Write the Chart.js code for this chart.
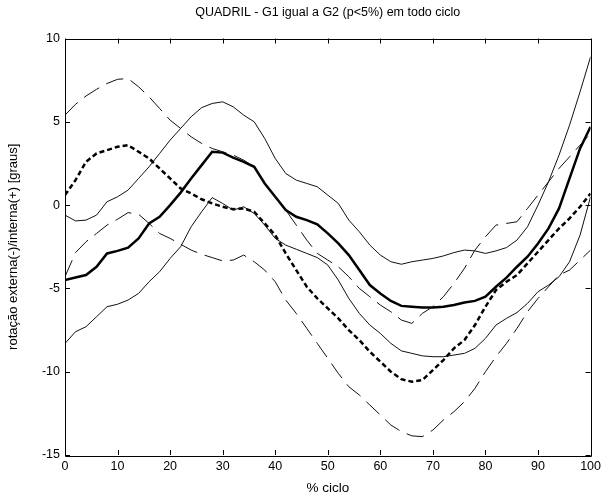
<!DOCTYPE html>
<html>
<head>
<meta charset="utf-8">
<script src="https://cdn.jsdelivr.net/npm/chart.js@4"></script>
<style>
  html, body { margin: 0; padding: 0; background: #fff; }
  #wrap { width: 605px; height: 493px; }
</style>
</head>
<body>
<div id="wrap"><canvas id="quadril"></canvas></div>
<script>
// % do ciclo
var pct = [0,2,4,6,8,10,12,14,16,18,20,22,24,26,28,30,32,34,36,38,40,42,44,46,48,50,
           52,54,56,58,60,62,64,66,68,70,72,74,76,78,80,82,84,86,88,90,92,94,96,98,100];

// G1 media (linha grossa continua)
var g1Media = [-4.5,-4.35,-4.2,-3.7,-2.9,-2.75,-2.55,-2.0,-1.1,-0.7,0.0,0.75,1.6,2.4,3.2,3.15,2.85,2.6,2.3,1.3,0.5,
               -0.3,-0.7,-0.9,-1.15,-1.7,-2.3,-3.0,-3.9,-4.8,-5.3,-5.75,-6.05,-6.1,-6.15,-6.15,-6.1,-6.0,-5.85,-5.75,-5.5,
               -4.9,-4.35,-3.7,-3.1,-2.3,-1.4,-0.2,1.6,3.4,4.7];
// G1 media + dp
var g1Sup = [-0.6,-0.95,-0.9,-0.6,0.2,0.5,0.9,1.6,2.3,3.1,3.9,4.6,5.3,5.85,6.1,6.2,5.9,5.4,5.0,4.0,2.8,
             1.9,1.5,1.3,1.1,0.6,0.1,-0.9,-1.6,-2.4,-3.0,-3.4,-3.55,-3.4,-3.3,-3.2,-3.05,-2.85,-2.7,-2.75,-2.9,
             -2.75,-2.55,-2.1,-1.3,0.0,1.4,3.0,4.8,6.8,8.9];
// G1 media - dp
var g1Inf = [-8.3,-7.6,-7.3,-6.7,-6.1,-5.95,-5.7,-5.3,-4.6,-4.0,-3.2,-2.5,-1.3,-0.4,0.45,0.1,-0.3,-0.1,-0.5,-1.2,-2.0,
             -2.4,-2.65,-2.9,-3.15,-3.6,-4.5,-5.6,-6.5,-7.2,-7.7,-8.3,-8.75,-8.9,-9.05,-9.1,-9.1,-9.0,-8.9,-8.6,-8.0,
             -7.2,-6.8,-6.45,-5.9,-5.2,-4.8,-4.3,-3.4,-1.8,0.5];
// G2 media (linha grossa tracejada)
var g2Media = [0.6,1.5,2.6,3.1,3.3,3.5,3.6,3.2,2.8,2.2,1.6,1.0,0.7,0.35,0.1,-0.1,-0.25,-0.2,-0.4,-1.1,-1.8,
               -2.9,-3.9,-4.9,-5.6,-6.2,-6.8,-7.5,-8.1,-8.8,-9.4,-10.0,-10.45,-10.6,-10.5,-9.9,-9.3,-8.6,-8.1,-7.2,-6.1,
               -5.1,-4.6,-4.2,-3.5,-2.8,-2.1,-1.4,-0.8,-0.1,0.7];
// G2 media + dp
var g2Sup = [5.4,6.05,6.55,6.95,7.3,7.55,7.6,7.1,6.5,5.8,5.1,4.6,4.1,3.7,3.4,3.2,3.0,2.7,2.3,1.3,0.5,
             -0.3,-1.2,-2.1,-2.9,-3.3,-3.7,-4.3,-5.0,-5.5,-6.0,-6.4,-6.9,-7.1,-6.5,-6.1,-5.5,-4.7,-3.8,-2.7,-1.9,
             -1.2,-1.1,-1.0,-0.2,0.6,1.4,2.2,2.9,3.6,4.3];
// G2 media - dp
var g2Inf = [-4.3,-2.85,-2.2,-1.7,-1.2,-0.85,-0.45,-0.55,-1.1,-1.7,-2.0,-2.35,-2.7,-2.95,-3.15,-3.35,-3.3,-3.0,-3.4,-3.9,-4.6,
             -5.7,-6.5,-7.4,-8.3,-9.2,-10.1,-10.9,-11.4,-12.0,-12.6,-13.2,-13.6,-13.85,-13.9,-13.5,-12.9,-12.4,-11.8,-11.0,-10.0,
             -9.1,-8.3,-7.4,-6.4,-5.6,-4.9,-4.2,-3.9,-3.3,-2.7];

var xTicks = [0,10,20,30,40,50,60,70,80,90,100];
var yTicks = [-15,-10,-5,0,5,10];

function pts(vals) {
  return vals.map(function (v, i) { return { x: pct[i], y: v }; });
}

// caixa e marcas para dentro, estilo matlab
var matlabBox = {
  id: 'matlabBox',
  afterDraw: function (chart) {
    var ctx = chart.ctx;
    var a = chart.chartArea;
    var sx = chart.scales.x, sy = chart.scales.y;
    var t = 5;
    ctx.save();
    ctx.strokeStyle = '#000';
    ctx.lineWidth = 1;
    ctx.beginPath();
    ctx.rect(Math.round(a.left) + 0.5, Math.round(a.top) + 0.5,
             Math.round(a.right - a.left), Math.round(a.bottom - a.top));
    xTicks.forEach(function (v) {
      var px = Math.round(sx.getPixelForValue(v)) + 0.5;
      ctx.moveTo(px, a.bottom); ctx.lineTo(px, a.bottom - t);
      ctx.moveTo(px, a.top); ctx.lineTo(px, a.top + t);
    });
    yTicks.forEach(function (v) {
      var py = Math.round(sy.getPixelForValue(v)) + 0.5;
      ctx.moveTo(a.left, py); ctx.lineTo(a.left + t, py);
      ctx.moveTo(a.right, py); ctx.lineTo(a.right - t, py);
    });
    ctx.stroke();
    ctx.restore();
  }
};

Chart.defaults.font.family = '"Liberation Sans", Arial, sans-serif';
Chart.defaults.font.size = 12;
Chart.defaults.color = '#000';

new Chart(document.getElementById('quadril'), {
  type: 'line',
  data: {
    datasets: [
      { label: 'G1 + dp', data: pts(g1Sup), borderColor: '#111', borderWidth: 1 },
      { label: 'G1 - dp', data: pts(g1Inf), borderColor: '#111', borderWidth: 1 },
      { label: 'G2 + dp', data: pts(g2Sup), borderColor: '#111', borderWidth: 1, borderDash: [18, 8] },
      { label: 'G2 - dp', data: pts(g2Inf), borderColor: '#111', borderWidth: 1, borderDash: [18, 8] },
      { label: 'G2', data: pts(g2Media), borderColor: '#000', borderWidth: 2.5, borderDash: [5, 3] },
      { label: 'G1', data: pts(g1Media), borderColor: '#000', borderWidth: 2.5 }
    ]
  },
  options: {
    responsive: true,
    maintainAspectRatio: false,
    animation: false,
    elements: { point: { radius: 0 }, line: { tension: 0, borderCapStyle: 'butt' } },
    layout: { padding: { left: 0, right: 12, top: 0, bottom: 0 } },
    plugins: {
      legend: { display: false },
      tooltip: { enabled: false },
      title: {
        display: true,
        fullSize: false,
        text: 'QUADRIL - G1 igual a G2 (p<5%) em todo ciclo',
        font: { size: 12.5, weight: 'normal' },
        color: '#000',
        padding: { top: 5, bottom: 18.5 }
      }
    },
    scales: {
      x: {
        type: 'linear',
        min: 0, max: 100,
        afterFit: function (s) { s.height = 38; },
        afterBuildTicks: function (s) { s.ticks = xTicks.map(function (v) { return { value: v }; }); },
        grid: { display: false, drawTicks: false },
        border: { display: false },
        ticks: { padding: 4, maxRotation: 0, autoSkip: false, font: { size: 12.5 } },
        title: { display: true, text: '% ciclo', font: { size: 13.5 }, padding: { top: 0, bottom: -3 } }
      },
      y: {
        type: 'linear',
        min: -15, max: 10,
        afterFit: function (s) { s.width = 65; },
        afterBuildTicks: function (s) { s.ticks = yTicks.map(function (v) { return { value: v }; }); },
        grid: { display: false, drawTicks: false },
        border: { display: false },
        ticks: { padding: 5, autoSkip: false, font: { size: 12.5 } },
        title: { display: true, text: 'rotação externa(-)/interna(+) [graus]', font: { size: 13 }, padding: { top: 6, bottom: 0 } }
      }
    }
  },
  plugins: [matlabBox]
});
</script>
</body>
</html>
